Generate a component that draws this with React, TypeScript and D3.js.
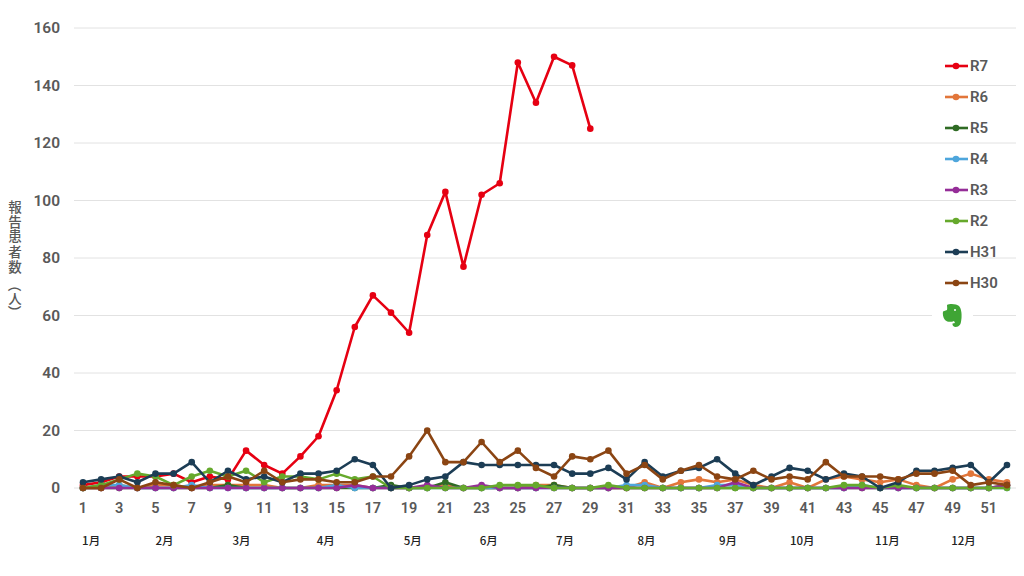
import React from "react";
import * as d3 from "d3";

const weeks = d3.range(1, 53);
const yTicks = [0, 20, 40, 60, 80, 100, 120, 140, 160];
const xTickWeeks = d3.range(1, 52, 2);
const monthLabels = ["1月","2月","3月","4月","5月","6月","7月","8月","9月","10月","11月","12月"];
const monthAnchors = [1.45, 5.5, 9.75, 14.4, 19.2, 23.4, 27.6, 32.1, 36.6, 40.7, 45.4, 49.6];

const r7 = [1,2,4,4,4,5,2,4,3,13,8,5,11,18,34,56,67,61,54,88,103,77,102,106,148,134,150,147,125];
const r6 = [0,0,1,0,1,1,0,1,1,1,1,0,0,1,1,1,0,0,0,0,1,0,0,0,0,1,1,0,0,0,0,2,0,2,3,2,3,1,0,2,0,3,4,3,2,3,1,0,3,5,3,2];
const r5 = [0,0,0,0,0,0,0,0,1,0,0,0,0,0,0,0,0,1,0,0,2,0,0,0,0,0,1,0,0,0,0,0,0,0,0,0,0,0,0,0,0,0,0,0,0,0,0,0,0,0,0,1];
const r4 = [0,1,1,0,0,0,1,0,0,0,0,0,0,0,1,0,0,0,0,0,0,0,0,0,0,0,0,0,0,0,1,1,0,0,0,1,1,0,0,0,0,0,0,1,0,0,0,0,0,0,0,0];
const r3 = [0,0,0,0,0,0,0,0,0,0,0,0,0,0,0,1,0,0,0,1,0,0,1,0,0,0,0,0,0,0,0,0,0,0,0,0,2,0,0,0,0,0,0,0,0,0,0,0,0,0,0,1];
const r2 = [0,1,3,5,4,1,4,6,4,6,2,4,4,3,5,3,4,0,0,0,0,0,0,1,1,1,0,0,0,1,0,0,0,0,0,0,0,0,0,0,0,0,1,1,0,1,0,0,0,0,0,0];
const h31 = [2,3,4,2,5,5,9,2,6,3,4,2,5,5,6,10,8,0,1,3,4,9,8,8,8,8,8,5,5,7,3,9,4,6,7,10,5,1,4,7,6,3,5,4,0,2,6,6,7,8,2,8];
const h30 = [0,0,3,0,2,1,0,2,4,2,6,2,3,3,2,2,4,4,11,20,9,9,16,9,13,7,4,11,10,13,5,8,3,6,8,4,3,6,3,4,3,9,4,4,4,3,5,5,6,1,2,1];

const seriesNames = ["R7","R6","R5","R4","R3","R2","H31","H30"];
const seriesValues = [r7,r6,r5,r4,r3,r2,h31,h30];
const seriesColors = ["#e60012","#e2763a","#2f6b24","#4ea6dc","#952d98","#66a92c","#1c3d55","#8b4513"];

const yAxisTitle = "報告患者数（人）";
const yAxisTurned = [false, false, false, false, false, true, false, true];
const yAxisCentres = [207, 221.5, 236, 251.5, 267, 285, 298.5, 312];
const iconColor = "#3fa535";
const gridColor = "#e2e2e2";
const textColor = "#595959";
const font = "Roboto, 'Noto Sans CJK JP', sans-serif";
const cjk = "'Noto Sans CJK JP', sans-serif";

export default function App() {
  const x = d3.scaleLinear().domain([1, 52]).range([83, 1007]);
  const y = d3.scaleLinear().domain([0, 160]).range([488, 28]);
  const line = d3.line<number>().x((_, i) => x(weeks[i])).y((d) => y(d));
  const legendY = d3.scaleLinear().domain([0, 7]).range([66, 283]);
  const drawOrder = d3.range(seriesNames.length);

  const em = 13.5;
  const titleX = 15;
  const glyphX = yAxisTurned.map((t) => (t ? titleX - 0.38 * em : titleX - 0.5 * em));
  const glyphY = yAxisCentres.map((c, i) => (yAxisTurned[i] ? c - 0.5 * em : c + 0.38 * em));
  const glyphR = yAxisTurned.map((t) => (t ? 90 : 0));

  return (
    <svg width={1024} height={576} style={{ position: "absolute", left: 0, top: 0, background: "#fff" }}>
      {yTicks.map((t) => (
        <line key={t} x1={74} x2={1016} y1={y(t)} y2={y(t)} stroke={gridColor} strokeWidth={1} />
      ))}
      {yTicks.map((t) => (
        <text key={t} x={60} y={y(t) + 5} textAnchor="end" fontFamily={font} fontSize={15.5} fontWeight={600} fill={textColor}>{t}</text>
      ))}
      {xTickWeeks.map((w) => (
        <text key={w} x={x(w)} y={513} textAnchor="middle" fontFamily={font} fontSize={14.5} fontWeight={600} fill={textColor}>{w}</text>
      ))}
      {monthLabels.map((m, i) => (
        <text key={m} x={x(monthAnchors[i])} y={545} textAnchor="middle" fontFamily={cjk} fontSize={11.5} fontWeight={500} fill="#222">{m}</text>
      ))}
      <text
        x={glyphX.join(" ")}
        y={glyphY.join(" ")}
        rotate={glyphR.join(" ")}
        fontFamily={cjk}
        fontSize={em}
        fontWeight={500}
        fill={textColor}
      >
        {yAxisTitle}
      </text>

      {drawOrder.map((s) => (
        <g key={seriesNames[s]}>
          <path d={line(seriesValues[s]) ?? ""} fill="none" stroke={seriesColors[s]} strokeWidth={2.6} strokeLinejoin="round" />
          {seriesValues[s].map((v, i) => (
            <circle key={i} cx={x(weeks[i])} cy={y(v)} r={3.3} fill={seriesColors[s]} />
          ))}
        </g>
      ))}

      {seriesNames.map((n, i) => (
        <g key={n}>
          <line x1={945} x2={968} y1={legendY(i)} y2={legendY(i)} stroke={seriesColors[i]} strokeWidth={2.6} />
          <circle cx={956} cy={legendY(i)} r={3.3} fill={seriesColors[i]} />
          <text x={970} y={legendY(i) + 5} fontFamily={font} fontSize={15} fontWeight={600} fill={textColor}>{n}</text>
        </g>
      ))}

      <rect x={932} y={300} width={41} height={30} fill="#fff" />
      <path
        fill={iconColor}
        d="M947 305 C950 303 957 304 959 306 C961 308 962 313 961.5 318 C961 322 961 325 958 326.5 C955 327.5 952 326.5 952.5 323.5 L955 323 L954 321 C951 322.5 947 322 945 320 C943 317.5 942.5 314 943 311.5 L947 310 C947.5 308.5 947 306.5 947 305 Z"
      />
      <circle cx={955} cy={310} r={1} fill="#fff" />
    </svg>
  );
}
